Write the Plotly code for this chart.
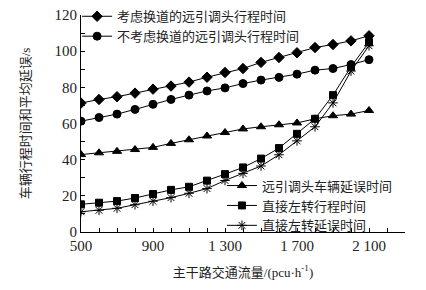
import plotly.graph_objects as go

flow = [500, 600, 700, 800, 900, 1000, 1100, 1200, 1300, 1400, 1500, 1600, 1700, 1800, 1900, 2000, 2100]
lane_change_uturn = [71.3, 73.3, 74.8, 76.8, 79.0, 80.7, 82.9, 85.6, 88.2, 90.4, 93.8, 96.5, 99.1, 102.0, 103.7, 105.7, 108.5]
no_lane_change_uturn = [61.3, 63.3, 65.2, 67.8, 70.6, 73.3, 75.7, 78.0, 79.7, 82.1, 84.0, 85.5, 87.3, 89.5, 90.4, 92.6, 95.3]
uturn_delay = [42.8, 43.8, 44.6, 45.6, 46.8, 49.0, 51.0, 53.1, 55.0, 57.0, 58.2, 59.3, 60.3, 62.6, 64.3, 65.2, 67.2]
left_travel = [15.3, 16.2, 17.1, 18.8, 21.0, 23.3, 25.0, 28.4, 32.0, 35.7, 40.6, 46.4, 54.3, 62.6, 75.7, 91.3, 105.0]
left_delay = [11.2, 12.0, 13.1, 15.1, 17.0, 19.0, 21.4, 24.0, 28.5, 32.4, 36.5, 42.7, 50.4, 58.2, 71.4, 89.0, 103.0]

x_tickvals = [500, 900, 1300, 1700, 2100]
x_ticktext = ["500", "900", "1 300", "1 700", "2 100"]
y_tickvals = [0, 20, 40, 60, 80, 100, 120]

names = ["考虑换道的远引调头行程时间", "不考虑换道的远引调头行程时间",
         "远引调头车辆延误时间", "直接左转行程时间", "直接左转延误时间"]

FONT = "Liberation Serif, Noto Sans CJK SC, serif"

fig = go.Figure()
series = [
    (lane_change_uturn, names[0], "diamond", 8, "legend"),
    (no_lane_change_uturn, names[1], "circle", 8, "legend"),
    (uturn_delay, names[2], "triangle-up", 8, "legend2"),
    (left_travel, names[3], "square", 7, "legend2"),
    (left_delay, names[4], "asterisk-open", 8, "legend2"),
]
for ys, nm, sym, sz, lg in series:
    fig.add_trace(go.Scatter(
        x=flow, y=ys, name=nm, mode="lines+markers",
        line=dict(color="black", width=1),
        marker=dict(symbol=sym, size=sz, color="black",
                    line=dict(color="black", width=1)),
        legend=lg,
    ))

fig.update_layout(
    width=426, height=302,
    margin=dict(l=81, r=21, t=27, b=58),
    plot_bgcolor="white", paper_bgcolor="white",
    font=dict(family=FONT, size=13, color="#222"),
    legend=dict(x=-0.012, y=1.063, xanchor="left", yanchor="top",
                bgcolor="rgba(0,0,0,0)", font=dict(size=13),
                tracegroupgap=0, itemwidth=30),
    legend2=dict(x=0.435, y=0.283, xanchor="left", yanchor="top",
                 bgcolor="rgba(0,0,0,0)", font=dict(size=13),
                 tracegroupgap=0, itemwidth=30),
    xaxis=dict(range=[500, 2300], tickvals=x_tickvals, ticktext=x_ticktext,
               showgrid=False, zeroline=False, showline=True, linecolor="black",
               linewidth=1, ticks="inside", ticklen=4, tickcolor="black",
               minor=dict(dtick=100, tick0=500, ticks="inside", ticklen=4,
                          tickcolor="black", showgrid=False),
               title=dict(text="主干路交通流量/(pcu·h<sup>-1</sup>)", standoff=14,
                          font=dict(size=13)),
               tickfont=dict(size=15)),
    yaxis=dict(range=[0, 120], tickvals=y_tickvals,
               showgrid=False, zeroline=False, showline=True, linecolor="black",
               linewidth=1, ticks="inside", ticklen=4, tickcolor="black",
               minor=dict(dtick=10, tick0=0, ticks="inside", ticklen=4,
                          tickcolor="black", showgrid=False),
               title=dict(text="车辆行程时间和平均延误/s", standoff=20,
                          font=dict(size=13)),
               tickfont=dict(size=15)),
)

fig.write_html("out.html", config={"displayModeBar": False},
               post_script="document.body.style.margin='-12px 0 0 0';")
